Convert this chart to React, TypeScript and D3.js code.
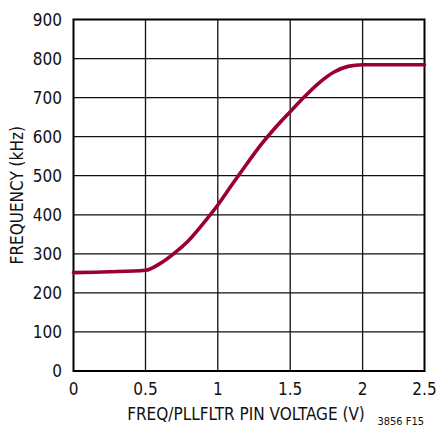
import React from "react";
import * as d3 from "d3";

const voltage = [0, 0.25, 0.5, 0.6, 0.7, 0.8, 0.9, 1.0, 1.1, 1.2, 1.3, 1.4, 1.5, 1.6, 1.7, 1.8, 1.9, 2.0, 2.25, 2.5];
const frequency = [252, 254, 258, 275, 302, 335, 378, 425, 478, 530, 580, 624, 664, 703, 738, 765, 780, 784, 784, 784];
const xTicks = [0, 0.5, 1, 1.5, 2, 2.5];
const xTickLabels = ["0", "0.5", "1", "1.5", "2", "2.5"];
const yTicks = [0, 100, 200, 300, 400, 500, 600, 700, 800, 900];

const W = 438;
const H = 430;
const FONT = "'Liberation Sans Narrow', 'DejaVu Sans Condensed', 'Roboto Condensed', sans-serif";

export default function App() {
  // the reference grid has an unevenly narrow last column; use a polylinear scale
  const x = d3.scaleLinear().domain(xTicks).range([73.5, 145.5, 217.8, 290.2, 362.6, 424.5]);
  const y = d3.scaleLinear().domain([0, 900]).range([371, 19.5]);
  const pts = voltage.map((v, i) => [v, frequency[i]] as [number, number]);
  const line = d3
    .line<[number, number]>()
    .x((d) => x(d[0]))
    .y((d) => y(d[1]))
    .curve(d3.curveMonotoneX);

  return (
    <svg width={W} height={H} style={{ position: "absolute", left: 0, top: 0, background: "#fff" }} fontFamily={FONT}>
      <rect x={0} y={0} width={W} height={H} fill="#fff" />
      {xTicks.slice(1, -1).map((t) => (
        <line key={"gx" + t} x1={x(t)} x2={x(t)} y1={y(900)} y2={y(0)} stroke="#111" strokeWidth={1.3} />
      ))}
      {yTicks.slice(1, -1).map((t) => (
        <line key={"gy" + t} x1={x(0)} x2={x(2.5)} y1={y(t)} y2={y(t)} stroke="#111" strokeWidth={1.3} />
      ))}
      <rect x={x(0)} y={y(900)} width={x(2.5) - x(0)} height={y(0) - y(900)} fill="none" stroke="#000" strokeWidth={2} />
      <path d={line(pts) || ""} fill="none" stroke="#990033" strokeWidth={3.6} strokeLinejoin="round" strokeLinecap="round" />
      {yTicks.map((t) => (
        <text key={"yl" + t} x={62} y={y(t)} dy="0.36em" textAnchor="end" fontSize={17} fill="#111">
          {t}
        </text>
      ))}
      {xTicks.map((t, i) => (
        <text key={"xl" + t} x={x(t)} y={395} textAnchor="middle" fontSize={17} fill="#111">
          {xTickLabels[i]}
        </text>
      ))}
      <text x={246} y={420} textAnchor="middle" fontSize={17} fill="#111">
        FREQ/PLLFLTR PIN VOLTAGE (V)
      </text>
      <text transform={`translate(23, ${y(450)}) rotate(-90)`} textAnchor="middle" fontSize={17} fill="#111">
        FREQUENCY (kHz)
      </text>
      <text x={424} y={425} textAnchor="end" fontSize={11} fill="#111">
        3856 F15
      </text>
    </svg>
  );
}
